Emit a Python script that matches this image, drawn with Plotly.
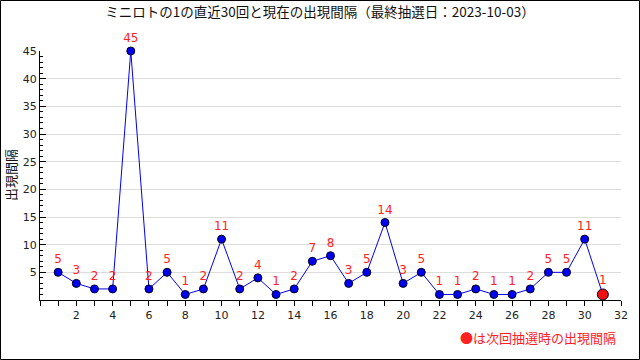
import plotly.graph_objects as go

draws = list(range(1, 32))
intervals = [5, 3, 2, 2, 45, 2, 5, 1, 2, 11, 2, 4, 1, 2, 7, 8, 3, 5, 14, 3, 5, 1, 1, 2, 1, 1, 2, 5, 5, 11, 1]
x_ticks = list(range(2, 33, 2))
y_ticks = list(range(5, 46, 5))
title_text = "ミニロトの1の直近30回と現在の出現間隔（最終抽選日：2023-10-03）"
y_title = "出現間隔"
note_text = "●は次回抽選時の出現間隔"

n = len(intervals)
colors = ["#0000ee"] * (n - 1) + ["#ee1111"]
sizes = [8] * (n - 1) + [11]

W, H = 640, 360
L, R, T, B = 40, 19, 51, 60
pw, ph = W - L - R, H - T - B

fig = go.Figure()
fig.add_trace(go.Scatter(
    x=draws, y=intervals, mode="lines+markers+text",
    line=dict(color="#0000ee", width=1),
    marker=dict(color=colors, size=sizes, opacity=1, line=dict(color="#000022", width=1)),
    text=[str(v) for v in intervals], textposition="top center",
    textfont=dict(color="#ff2222", size=12, family="DejaVu Sans"),
    cliponaxis=False, showlegend=False,
))

fig.update_layout(
    width=W, height=H,
    margin=dict(l=L, r=R, t=T, b=B),
    paper_bgcolor="white", plot_bgcolor="white",
    font=dict(family="DejaVu Sans", size=11, color="#222222"),
    title=dict(text=title_text, x=0.5, xanchor="center", y=1 - 12 / H, yanchor="middle",
               font=dict(family="Noto Sans CJK JP", size=13.5, color="#111111")),
    xaxis=dict(range=[0, 32], tickvals=x_ticks, ticks="outside", ticklen=5,
               tickcolor="#000000", showgrid=False, zeroline=False, automargin=False,
               showline=True, linecolor="#000000", linewidth=1,
               minor=dict(dtick=1, tick0=0, ticks="outside", ticklen=5, tickcolor="#000000", showgrid=False),
               tickfont=dict(size=11, color="#222222")),
    yaxis=dict(range=[0, 45], tickvals=y_ticks, ticks="inside", ticklen=6,
               tickcolor="#000000", showgrid=True, gridcolor="#dddddd", zeroline=False, automargin=False,
               showline=True, linecolor="#000000", linewidth=1,
               minor=dict(dtick=1, tick0=0, ticks="inside", ticklen=3, tickcolor="#000000", showgrid=False),
               tickfont=dict(size=11, color="#222222")),
)

fig.add_annotation(text=y_title, xref="paper", yref="paper",
                   x=(10 - L) / pw, y=(H - 175 - B) / ph, xanchor="center", yanchor="middle",
                   textangle=-90, showarrow=False,
                   font=dict(family="Noto Sans CJK JP", size=13, color="#111111"))

fig.add_annotation(text=note_text, xref="paper", yref="paper",
                   x=(618 - L) / pw, y=(H - 337 - B) / ph, xanchor="right", yanchor="middle",
                   showarrow=False, font=dict(family="Noto Sans CJK JP", size=13, color="#ff2222"))

fig.add_shape(type="rect", xref="paper", yref="paper",
              x0=(0.5 - L) / pw, x1=(W - 0.5 - L) / pw,
              y0=(0.5 - B) / ph, y1=(H - 0.5 - B) / ph,
              line=dict(color="#000000", width=1), layer="above")

fig.write_html("out.html", config={"displayModeBar": False},
               post_script="document.body.style.margin='0';document.body.style.overflow='hidden';")
